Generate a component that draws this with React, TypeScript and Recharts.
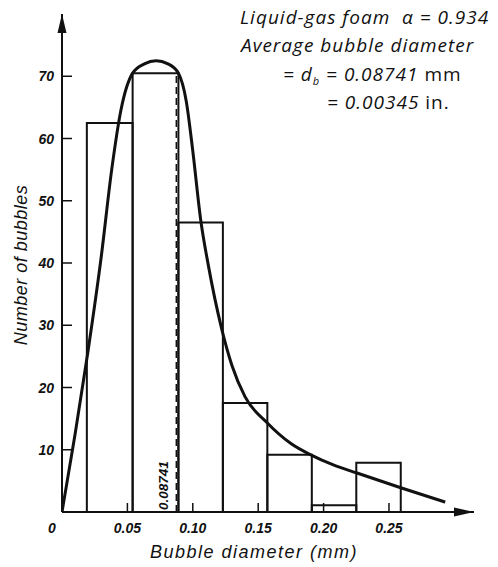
import { ComposedChart, Line, XAxis, YAxis, ReferenceArea, ReferenceLine, ReferenceDot } from 'recharts';

// histogram bins (mm) and bubble counts
const binStart = [0.019, 0.054, 0.089, 0.123, 0.157, 0.191, 0.225];
const binEnd = [0.054, 0.089, 0.123, 0.157, 0.191, 0.225, 0.259];
const binCount = [62.5, 70.5, 46.5, 17.5, 9.2, 1.1, 7.9];

// fitted distribution curve
const curveD = [0, 0.01, 0.02, 0.03, 0.038, 0.045, 0.054, 0.063, 0.072, 0.081, 0.089, 0.095, 0.1, 0.106, 0.112, 0.122, 0.13, 0.14, 0.157, 0.175, 0.191, 0.207, 0.225, 0.259, 0.293];
const curveN = [0, 12.5, 26, 41, 55, 64.5, 70.5, 72, 72.5, 72, 70.5, 66, 58, 47, 39.5, 29.5, 23.5, 18.5, 14.3, 11, 9.1, 7.6, 6.3, 3.9, 1.6];

const xTicks = [0, 0.05, 0.1, 0.15, 0.2, 0.25];
const yTicks = [10, 20, 30, 40, 50, 60, 70];

const meanDiameter = 0.08741;
const xMax = 0.315;
const yMax = 80;

const curveData = curveD.map((d, i) => ({ d, n: curveN[i] }));

const tickFont = "'Liberation Sans', Arial, sans-serif";

function XTick(props: any) {
  const { x, y, payload } = props;
  const v = payload.value as number;
  if (v === 0) {
    return (
      <text x={x - 10} y={y + 21} textAnchor="middle" fontSize={14} fontStyle="italic" fontWeight="bold" fontFamily={tickFont} fill="#111">0</text>
    );
  }
  return (
    <g>
      <line x1={x} y1={y} x2={x} y2={y - 9} stroke="#111" strokeWidth={1.5} />
      <text x={x} y={y + 21} textAnchor="middle" fontSize={14} fontStyle="italic" fontWeight="bold" fontFamily={tickFont} fill="#111">
        {v.toFixed(2)}
      </text>
    </g>
  );
}

function YTick(props: any) {
  const { x, y, payload } = props;
  return (
    <g>
      <line x1={x} y1={y} x2={x + 10} y2={y} stroke="#111" strokeWidth={1.5} />
      <text x={x - 8} y={y + 5} textAnchor="end" fontSize={14} fontStyle="italic" fontWeight="bold" fontFamily={tickFont} fill="#111">
        {payload.value}
      </text>
    </g>
  );
}

const noteStyle: React.CSSProperties = {
  position: 'absolute',
  fontFamily: "'Open Sans', sans-serif",
  fontStyle: 'italic',
  fontSize: 19,
  letterSpacing: 1,
  color: '#111',
  whiteSpace: 'nowrap',
  lineHeight: 1,
};

const titleStyle: React.CSSProperties = {
  position: 'absolute',
  fontFamily: tickFont,
  fontStyle: 'italic',
  fontSize: 18,
  color: '#111',
  whiteSpace: 'nowrap',
  lineHeight: 1,
};

export default function App() {
  return (
    <div style={{ position: 'absolute', left: 0, top: 0, width: 498, height: 567, background: '#fff', overflow: 'hidden' }}>
      <ComposedChart width={498} height={567} data={curveData} margin={{ top: 14, right: 24, left: 0, bottom: 0 }}>
        <XAxis
          dataKey="d"
          type="number"
          domain={[0, xMax]}
          ticks={xTicks}
          height={55}
          tickSize={0}
          tickMargin={0}
          tickLine={false}
          axisLine={{ stroke: '#111', strokeWidth: 2 }}
          tick={<XTick />}
          allowDataOverflow
        />
        <YAxis
          type="number"
          domain={[0, yMax]}
          ticks={yTicks}
          width={62}
          tickSize={0}
          tickMargin={0}
          tickLine={false}
          axisLine={{ stroke: '#111', strokeWidth: 2 }}
          tick={<YTick />}
          allowDataOverflow
        />
        {binCount.map((c, i) => (
          <ReferenceArea
            key={i}
            x1={binStart[i]}
            x2={binEnd[i]}
            y1={0}
            y2={c}
            fill="none"
            stroke="#111"
            strokeWidth={2}
            ifOverflow="visible"
          />
        ))}
        <ReferenceLine
          segment={[{ x: meanDiameter, y: 0 }, { x: meanDiameter, y: binCount[1] }]}
          stroke="#111"
          strokeWidth={1.5}
          strokeDasharray="7 4"
        />
        <ReferenceDot
          x={meanDiameter}
          y={0}
          ifOverflow="visible"
          shape={(p: any) => (
            <text
              x={p.cx - 8}
              y={p.cy - 2}
              transform={`rotate(-90 ${p.cx - 8} ${p.cy - 2})`}
              fontSize={13.5}
              fontStyle="italic"
              fontWeight="bold"
              fontFamily={tickFont}
              fill="#111"
            >
              {meanDiameter}
            </text>
          )}
        />
        <Line
          dataKey="n"
          type="monotone"
          stroke="#111"
          strokeWidth={3}
          dot={false}
          activeDot={false}
          isAnimationActive={false}
        />
        <ReferenceDot
          x={0}
          y={yMax}
          ifOverflow="visible"
          shape={(p: any) => <path d={`M${p.cx},${p.cy} L${p.cx - 4.5},${p.cy + 19} L${p.cx + 4.5},${p.cy + 19} Z`} fill="#111" />}
        />
        <ReferenceDot
          x={xMax}
          y={0}
          ifOverflow="visible"
          shape={(p: any) => <path d={`M${p.cx},${p.cy} L${p.cx - 20},${p.cy - 4.5} L${p.cx - 20},${p.cy + 4.5} Z`} fill="#111" />}
        />
      </ComposedChart>

      <div style={{ ...noteStyle, left: 240, top: 8 }}>Liquid-gas foam &nbsp;α = 0.934</div>
      <div style={{ ...noteStyle, left: 241, top: 36 }}>Average bubble diameter</div>
      <div style={{ ...noteStyle, left: 283, top: 65 }}>
        = d<span style={{ fontSize: 11, verticalAlign: -4 }}>b</span> = 0.08741 <span style={{ fontStyle: 'normal' }}>mm</span>
      </div>
      <div style={{ ...noteStyle, left: 327, top: 93 }}>
        = 0.00345 <span style={{ fontStyle: 'normal' }}>in.</span>
      </div>

      <div style={{ ...titleStyle, left: 150, top: 543, letterSpacing: 1.5 }}>Bubble diameter (mm)</div>
      <div
        style={{
          ...titleStyle,
          left: 21,
          top: 265,
          letterSpacing: 0.5,
          transform: 'translate(-50%, -50%) rotate(-90deg)',
        }}
      >
        Number of bubbles
      </div>
    </div>
  );
}
